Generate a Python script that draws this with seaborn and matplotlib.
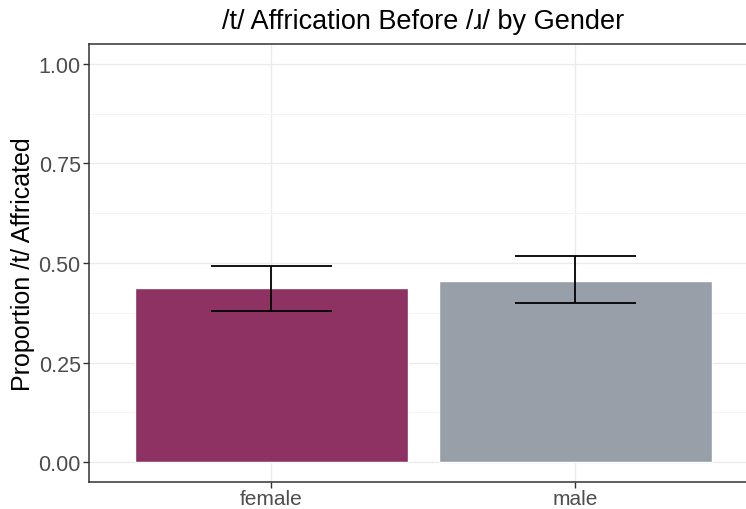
import matplotlib
matplotlib.use("Agg")
import matplotlib.pyplot as plt
import seaborn as sns
import pandas as pd
import numpy as np

# Proportion of /t/ tokens affricated before /ɹ/, by speaker gender
gender = ["female", "male"]
proportion = [0.436, 0.456]
ci_lower = [0.379, 0.399]
ci_upper = [0.492, 0.517]
bar_colors = ["#8E3163", "#979FA8"]
y_ticks = [0.00, 0.25, 0.50, 0.75, 1.00]
y_tick_labels = ["0.00", "0.25", "0.50", "0.75", "1.00"]

df = pd.DataFrame({"gender": gender, "proportion": proportion})

sns.set_theme(style="white")
plt.rcParams["font.family"] = ["Liberation Sans", "DejaVu Sans"]

fig = plt.figure(figsize=(7.46, 5.10), dpi=100)
ax = fig.add_axes([89 / 746, 27 / 510, 668.8 / 746, 438 / 510])

sns.barplot(data=df, x="gender", y="proportion", hue="gender",
            palette=bar_colors, width=0.9, errorbar=None, legend=False,
            saturation=1, ax=ax, zorder=2)

# error bars with caps 0.4 category-units wide
xs = np.arange(len(gender))
cap = 0.2
ax.vlines(xs, ci_lower, ci_upper, color="black", linewidth=1.3, zorder=3)
ax.hlines(ci_lower, xs - cap, xs + cap, color="black", linewidth=1.3, zorder=3)
ax.hlines(ci_upper, xs - cap, xs + cap, color="black", linewidth=1.3, zorder=3)

ax.set_xlim(-0.6, 1.6)
ax.set_ylim(-0.05, 1.05)
ax.set_yticks(y_ticks)
ax.set_yticklabels(y_tick_labels)
ax.set_yticks([0.125, 0.375, 0.625, 0.875], minor=True)

ax.grid(True, which="major", color="#EBEBEB", linewidth=1.0, zorder=0)
ax.grid(True, which="minor", axis="y", color="#F3F3F3", linewidth=0.6, zorder=0)
ax.set_axisbelow(True)

for side in ["left", "bottom", "top", "right"]:
    ax.spines[side].set_visible(True)
    ax.spines[side].set_color("#333333")
    ax.spines[side].set_linewidth(1.1)

ax.tick_params(axis="both", which="major", length=4, width=1.0, color="#333333",
               labelsize=15.5, labelcolor="#4D4D4D", left=True, bottom=True, pad=2)
ax.tick_params(axis="x", which="major", labelsize=15, pad=1)
ax.tick_params(axis="y", which="minor", length=0)

ax.set_xlabel("")
ax.set_ylabel("Proportion /t/ Affricated", fontsize=18, color="black", labelpad=2.5)
fig.text(423 / 746, 1 - 22 / 510, "/t/ Affrication Before /ɹ/ by Gender",
         ha="center", va="center", fontsize=19.5, color="black")

fig.savefig("out.png", dpi=100)
